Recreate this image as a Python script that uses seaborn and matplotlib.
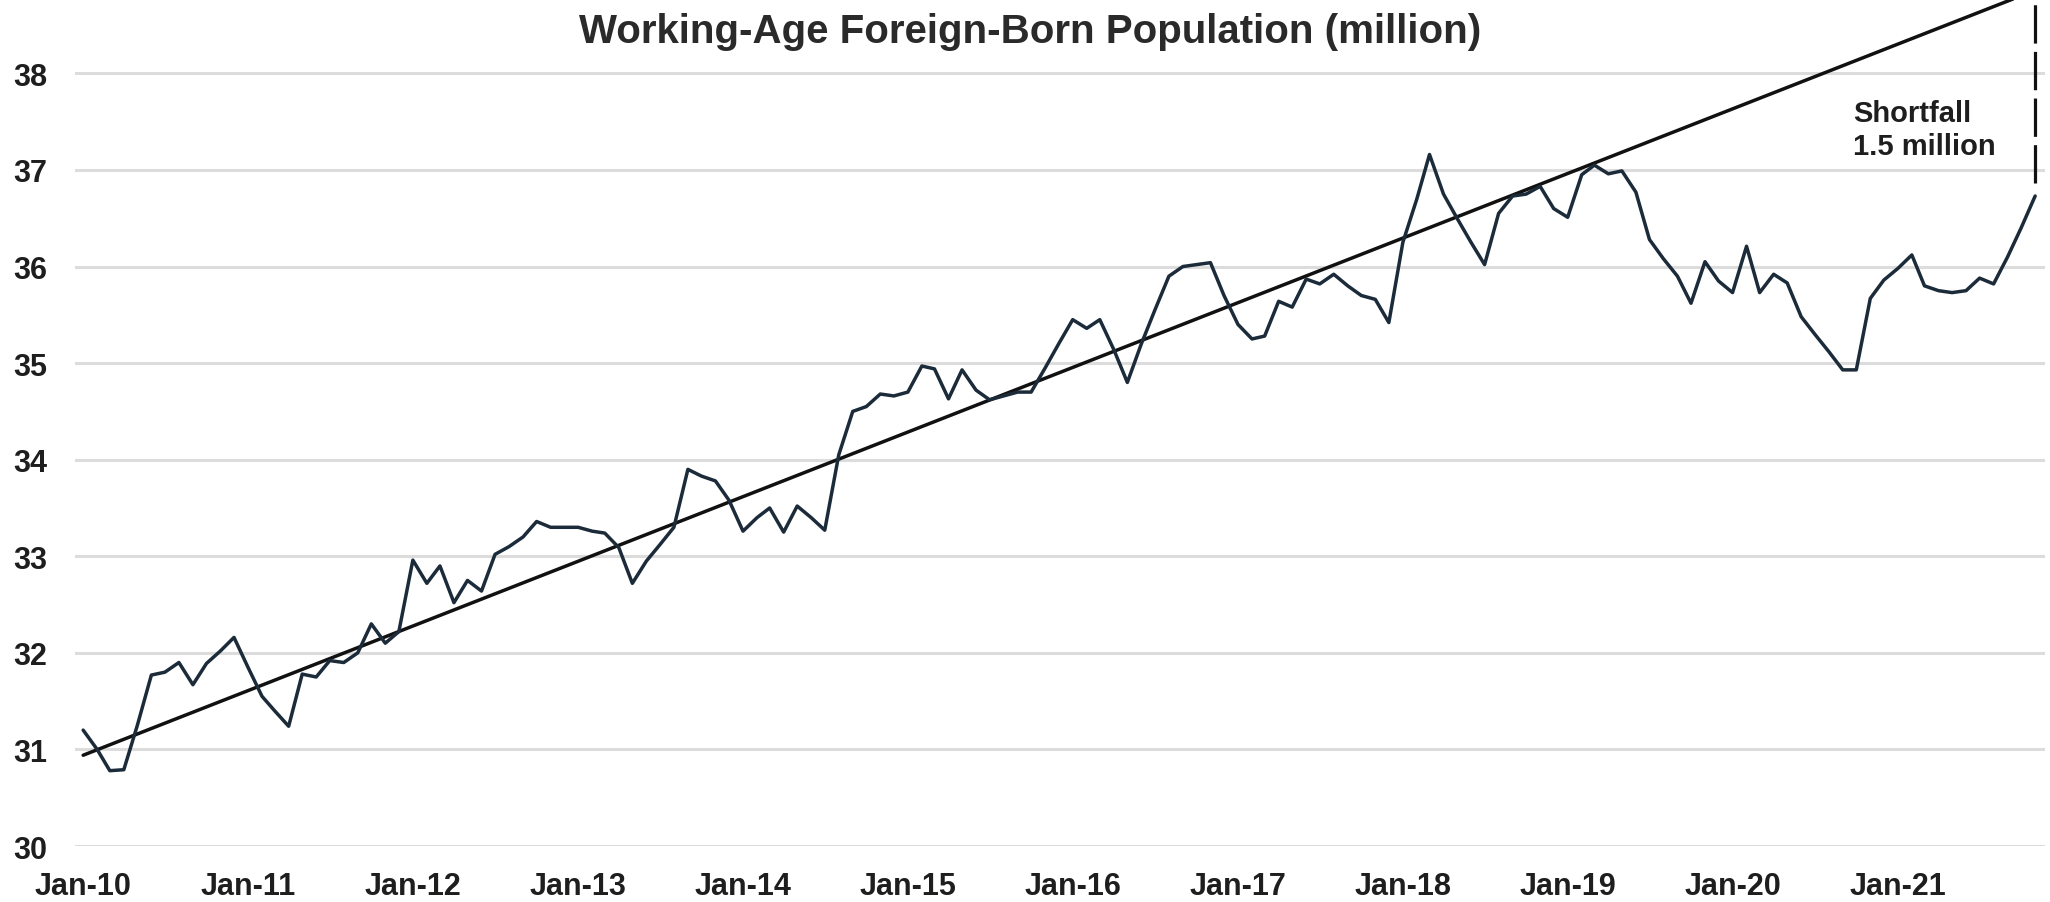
import pandas as pd
import matplotlib.pyplot as plt
import matplotlib.dates as mdates
import seaborn as sns

# --- data: monthly series from Jan-2010, millions ---
START_MONTH = "2010-01-01"
population = [
    31.20, 31.00, 30.78, 30.79, 31.25, 31.77, 31.80, 31.90, 31.67, 31.89, 32.02, 32.16,
    31.85, 31.55, 31.40, 31.24, 31.78, 31.75, 31.92, 31.90, 32.00, 32.30, 32.10, 32.22,
    32.96, 32.72, 32.90, 32.52, 32.75, 32.64, 33.02, 33.10, 33.20, 33.36, 33.30, 33.30,
    33.30, 33.26, 33.24, 33.09, 32.72, 32.95, 33.12, 33.30, 33.90, 33.83, 33.78, 33.58,
    33.26, 33.40, 33.50, 33.25, 33.52, 33.40, 33.27, 34.05, 34.50, 34.55, 34.68, 34.66,
    34.70, 34.97, 34.94, 34.63, 34.93, 34.72, 34.62, 34.66, 34.70, 34.70, 34.95, 35.20,
    35.45, 35.36, 35.45, 35.14, 34.80, 35.20, 35.55, 35.90, 36.00, 36.02, 36.04, 35.70,
    35.40, 35.25, 35.28, 35.64, 35.58, 35.87, 35.82, 35.92, 35.80, 35.70, 35.66, 35.42,
    36.25, 36.70, 37.16, 36.75, 36.50, 36.25, 36.02, 36.55, 36.73, 36.75, 36.83, 36.60,
    36.51, 36.95, 37.05, 36.96, 36.99, 36.77, 36.28, 36.08, 35.90, 35.62, 36.05, 35.85,
    35.73, 36.21, 35.73, 35.92, 35.83, 35.48, 35.30, 35.12, 34.93, 34.93, 35.67, 35.86,
    35.98, 36.12, 35.80, 35.75, 35.73, 35.75, 35.88, 35.82, 36.10, 36.40, 36.73,
]

# straight pre-pandemic trend, read at first and last month
trend_values = [30.94, 38.86]

year_labels = ["Jan-10", "Jan-11", "Jan-12", "Jan-13", "Jan-14", "Jan-15",
               "Jan-16", "Jan-17", "Jan-18", "Jan-19", "Jan-20", "Jan-21"]
y_ticks = [30, 31, 32, 33, 34, 35, 36, 37, 38]

TITLE = "Working-Age Foreign-Born Population (million)"
NOTE = "Shortfall\n1.5 million"

LINE_COLOR = "#1c2b3a"
TREND_COLOR = "#111111"
TEXT_COLOR = "#1e1e1e"
GRID_COLOR = "#dcdcdc"

sns.set_theme(style="white")
plt.rcParams["font.family"] = ["Liberation Sans", "DejaVu Sans"]
plt.rcParams["font.weight"] = "bold"

months = pd.date_range(START_MONTH, periods=len(population), freq="MS")
df = pd.DataFrame({"month": months, "value": population})
df_trend = pd.DataFrame({"month": [months[0], months[-1]], "value": trend_values})

fig = plt.figure(figsize=(20.5, 9.03), dpi=100)
ax = fig.add_axes([0.0366, 0.062, 0.961, 0.938])

sns.lineplot(data=df_trend, x="month", y="value", ax=ax, color=TREND_COLOR, linewidth=2.5)
sns.lineplot(data=df, x="month", y="value", ax=ax, color=LINE_COLOR, linewidth=2.5)

# dashed gap between trend and latest reading
ax.vlines(months[-1], population[-1] + 0.14, trend_values[-1], colors=TREND_COLOR,
          linewidth=2.3, linestyles=(0, (12, 2.6)))

ax.set_xlim(months[0] - pd.Timedelta(days=18), months[-1] + pd.Timedelta(days=22))
ax.set_ylim(30, 38.77)

year_ticks = pd.date_range(START_MONTH, periods=len(year_labels), freq="YS")
ax.set_xticks(year_ticks)
ax.set_xticklabels(year_labels)
ax.set_yticks(y_ticks)
ax.set_yticklabels([str(v) for v in y_ticks])

ax.tick_params(axis="x", length=0, pad=18, labelsize=22, labelcolor=TEXT_COLOR)
ax.tick_params(axis="y", length=0, pad=20, labelsize=22, labelcolor=TEXT_COLOR)
for lbl in ax.get_xticklabels() + ax.get_yticklabels():
    lbl.set_fontweight("bold")

ax.yaxis.grid(True, color=GRID_COLOR, linewidth=2.2)
ax.xaxis.grid(False)
ax.set_axisbelow(True)
sns.despine(ax=ax, left=True, bottom=True)
ax.set_xlabel("")
ax.set_ylabel("")

ax.text(0.9025, 0.846, NOTE, transform=ax.transAxes, ha="left", va="center",
        fontsize=21, fontweight="bold", color=TEXT_COLOR, linespacing=1.2)

fig.text(0.5024, 0.965, TITLE, ha="center", va="center", fontsize=29,
         fontweight="bold", color="#2a2a2a")

fig.savefig("out.png", dpi=100, facecolor="white")
